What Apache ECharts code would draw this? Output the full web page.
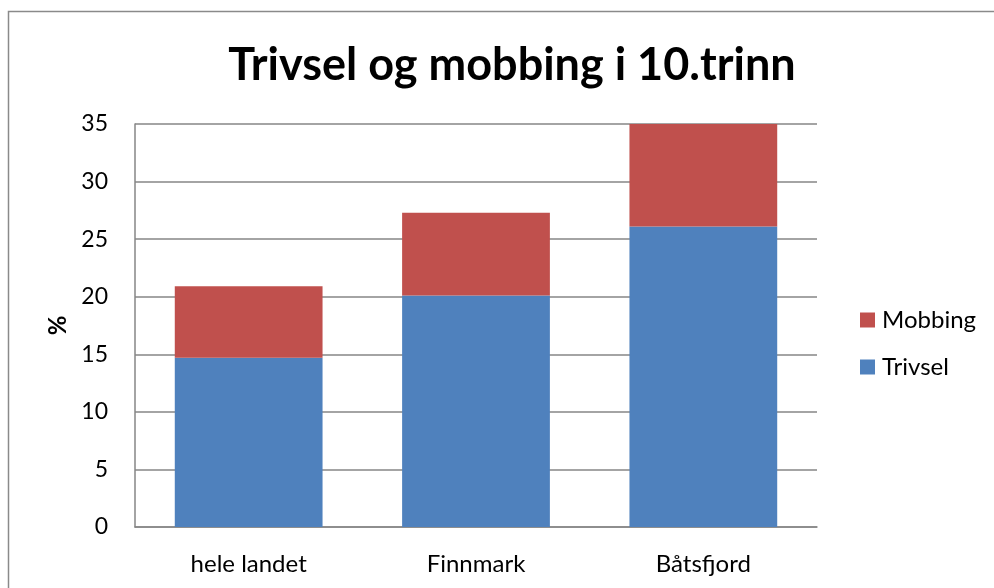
<!DOCTYPE html>
<html><head><meta charset="utf-8">
<script src="https://cdn.jsdelivr.net/npm/echarts@6/dist/echarts.min.js"></script>
<style>html,body{margin:0;padding:0;background:#fff}#c{width:994px;height:588px}</style>
</head><body><div id="c"></div>
<script>
const categories = ['hele landet', 'Finnmark', 'Båtsfjord'];
const trivsel = [14.7, 20.1, 26.1];
const mobbing = [6.2, 7.2, 8.9];
const yTicks = [0, 5, 10, 15, 20, 25, 30, 35];

const chart = echarts.init(document.getElementById('c'), null, {renderer: 'canvas'});
const font = 'Lato, "Open Sans", sans-serif';
chart.setOption({
  animation: false,
  backgroundColor: '#fff',
  title: {
    text: 'Trivsel og mobbing i 10.trinn',
    left: 507, top: 38, textAlign: 'center',
    textStyle: {fontFamily: font, fontWeight: 'bold', fontSize: 45, color: '#000'}
  },
  graphic: [{
    type: 'rect', shape: {x: 8.5, y: 11.5, width: 1000, height: 600},
    style: {fill: 'none', stroke: '#8a8a8a', lineWidth: 1.5}, silent: true
  }],
  legend: {
    data: ['Mobbing', 'Trivsel'],
    orient: 'vertical', left: 860, top: 308, padding: 0,
    itemWidth: 15, itemHeight: 15, itemGap: 23,
    icon: 'rect',
    textStyle: {fontFamily: font, fontSize: 24, lineHeight: 24, color: '#000', padding: [0,0,0,2]}
  },
  grid: {left: 135, right: 177, top: 124, bottom: 61, containLabel: false},
  xAxis: {
    type: 'category', data: categories,
    axisLine: {lineStyle: {color: '#868686', width: 1.5}},
    axisTick: {show: false},
    axisLabel: {fontFamily: font, fontSize: 24, color: '#000', margin: 25}
  },
  yAxis: {
    type: 'value', min: 0, max: 35, interval: 5,
    name: '%', nameLocation: 'middle', nameGap: 64, nameRotate: 90,
    nameTextStyle: {fontFamily: font, fontWeight: 'bold', fontSize: 24, color: '#000'},
    axisLine: {show: true, lineStyle: {color: '#868686', width: 1.5}},
    axisTick: {show: false},
    axisLabel: {fontFamily: font, fontSize: 23, color: '#000', margin: 27,
      formatter: v => yTicks.includes(v) ? String(v) : ''},
    splitLine: {lineStyle: {color: '#868686', width: 1.5}}
  },
  series: [
    {name: 'Trivsel', type: 'bar', stack: 's', data: trivsel, barCategoryGap: '35%',
     itemStyle: {color: '#4F81BD'}},
    {name: 'Mobbing', type: 'bar', stack: 's', data: mobbing, barCategoryGap: '35%',
     itemStyle: {color: '#C0504D'}}
  ]
});
</script></body></html>
